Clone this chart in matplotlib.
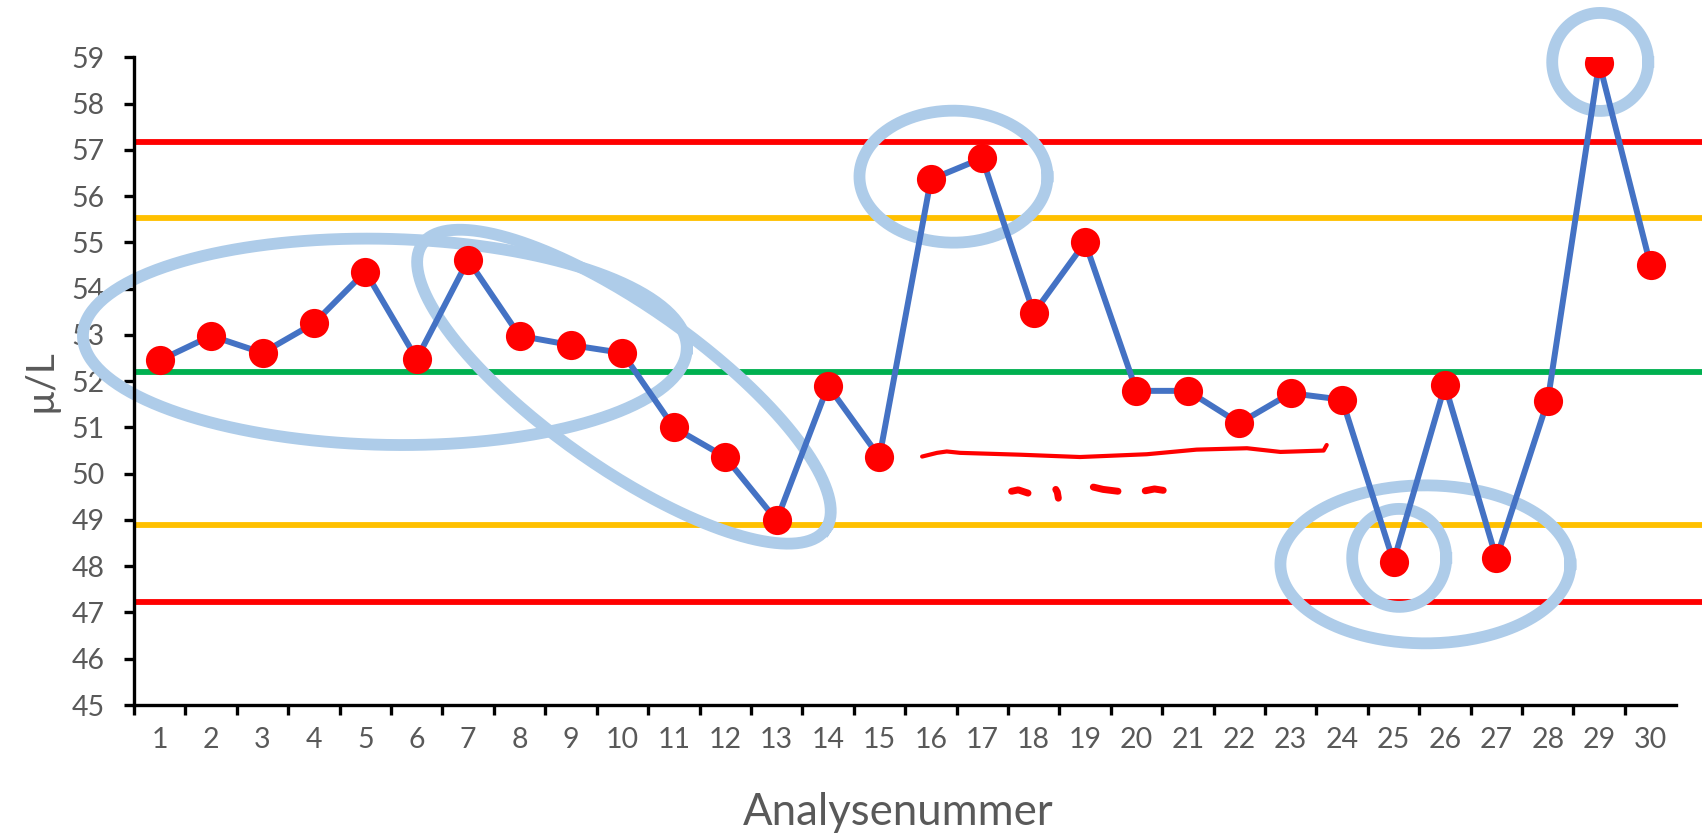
import numpy as np
import matplotlib
matplotlib.use("Agg")
import matplotlib.pyplot as plt

plt.rcParams['font.family'] = ['Lato', 'DejaVu Sans']

# analysis results (µ/L), one per run
analyse_nr = np.arange(1, 31)
werte = [52.45, 52.98, 52.61, 53.25, 54.37, 52.48, 54.62, 52.98, 52.78, 52.61,
         51.00, 50.36, 48.99, 51.90, 50.36, 56.36, 56.82, 53.47, 55.00, 51.79,
         51.79, 51.09, 51.74, 51.60, 48.10, 51.91, 48.17, 51.58, 58.88, 54.50]

# control limits
ucl, uwl, mittel, lwl, lcl = 57.18, 55.52, 52.20, 48.88, 47.22
grenzen = [ucl, uwl, mittel, lwl, lcl]
grenz_farben = ['#FF0000', '#FFC000', '#00B050', '#FFC000', '#FF0000']

y_ticks = list(range(45, 60))

# hand-drawn rings: centre (x, y in data), half axes in px, tilt in degrees
ringe = [
    (5.38, 52.85, 302, 103, -1.3),
    (10.03, 51.88, 247, 80, -35.3),
    (16.44, 56.42, 94, 66, 0),
    (29.02, 58.90, 48, 49, 0),
    (25.62, 48.04, 145, 79, 0),
    (25.11, 48.18, 47, 49, 0),
]

# red pen marks
strich_x = [15.83, 16.12, 16.31, 16.57, 17.74, 18.90, 20.20, 21.17, 22.15, 22.80, 23.64, 23.70]
strich_y = [50.37, 50.45, 50.48, 50.45, 50.41, 50.36, 50.42, 50.52, 50.55, 50.47, 50.50, 50.62]
punkte = [
    ([17.57, 17.70, 17.89], [49.62, 49.65, 49.58]),
    ([18.43, 18.46, 18.48], [49.66, 49.60, 49.47]),
    ([19.16, 19.35, 19.64], [49.71, 49.66, 49.62]),
    ([20.17, 20.35, 20.52], [49.63, 49.67, 49.64]),
]

grau = '#595959'

fig = plt.figure(figsize=(17.08, 8.35), dpi=100)
ax = fig.add_axes([134 / 1708, 130 / 835, 1568 / 1708, 647.7 / 835])
ax.set_xlim(0.5, 31.0)
ax.set_ylim(45, 59)

for g, c in zip(grenzen, grenz_farben):
    ax.axhline(g, color=c, lw=4.2, zorder=1)

# rings drawn in pixel space so tilt and roundness survive the axis scaling
sx = ax.bbox.width / (31.0 - 0.5)
sy = ax.bbox.height / (59 - 45)
t = np.linspace(0, 2 * np.pi, 300)
for cx, cy, a, b, ang in ringe:
    th = np.deg2rad(ang)
    dx = a * np.cos(t) * np.cos(th) - b * np.sin(t) * np.sin(th)
    dy = a * np.cos(t) * np.sin(th) + b * np.sin(t) * np.cos(th)
    ax.plot(cx + dx / sx, cy + dy / sy, color='#AECCE9', lw=8.5,
            solid_joinstyle='round', zorder=2, clip_on=False)

ax.plot(strich_x, strich_y, color='#FF0000', lw=3, solid_capstyle='round', zorder=2)
for px, py in punkte:
    ax.plot(px, py, color='#FF0000', lw=5, solid_capstyle='round', zorder=2)

ax.plot(analyse_nr, werte, color='#4472C4', lw=4.3, zorder=3)
ax.plot(analyse_nr, werte, 'o', color='#FF0000', ms=21, mec='none', zorder=4)

for s in ['top', 'right']:
    ax.spines[s].set_visible(False)
ax.spines['left'].set_linewidth(2.4)
ax.spines['bottom'].set_linewidth(2.4)
ax.spines['bottom'].set_bounds(0.5, 30.5)

ax.set_yticks(y_ticks)
ax.set_yticklabels([str(v) for v in y_ticks])
ax.tick_params(axis='y', direction='out', length=7, width=2.4, pad=14,
               labelsize=20.5, labelcolor=grau)

ax.set_xticks(np.arange(0.5, 30, 1))
ax.set_xticklabels([])
ax.set_xticks(analyse_nr, minor=True)
ax.set_xticklabels([str(n) for n in analyse_nr], minor=True)
ax.tick_params(axis='x', which='major', direction='out', length=7, width=2.4)
ax.tick_params(axis='x', which='minor', length=0, pad=16,
               labelsize=20.5, labelcolor=grau)

fig.text(898 / 1708, 1 - 825 / 835, 'Analysenummer', ha='center', va='baseline',
         fontsize=31.5, color=grau)
fig.text(40 / 1708, 1 - 381 / 835, 'µ/L', ha='center', va='center', rotation=90,
         fontsize=28, color=grau)

fig.savefig('out.png', dpi=100)
